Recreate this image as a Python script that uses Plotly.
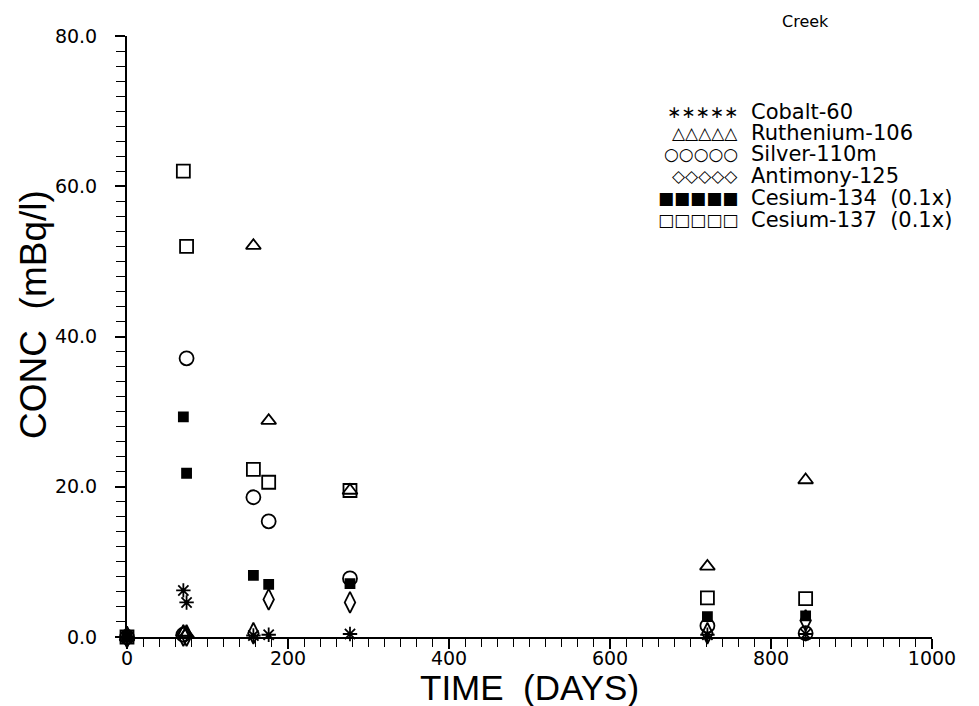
import plotly.graph_objects as go

# ---- data ----
days = [0, 70, 74, 157, 176, 277, 721, 843]
cobalt60 = [0, 6.2, 4.6, 0.2, 0.3, 0.4, 0.3, 0.4]
ruthenium106 = [0, 0.6, 0.4, 52.1, 28.8, 19.5, 9.4, 20.9]
silver110m = [0, 0.3, 37.1, 18.6, 15.4, 7.8, 1.5, 0.5]
antimony125 = [0, 0.2, 0.2, 0.5, 5.0, 4.6, 0.5, 2.2]
cesium134_x01 = [0, 29.3, 21.8, 8.2, 7.0, 7.1, 2.7, 2.8]
cesium137_x01 = [0, 62.0, 52.0, 22.3, 20.6, 19.5, 5.2, 5.1]

series_names = ["Cobalt-60", "Ruthenium-106", "Silver-110m", "Antimony-125",
                "Cesium-134  (0.1x)", "Cesium-137  (0.1x)"]
legend_glyphs = ["∗∗∗∗∗", "△△△△△", "○○○○○", "◇◇◇◇◇", "■■■■■", "□□□□□"]
x_ticks = [0, 200, 400, 600, 800, 1000]
y_ticks = [0, 20, 40, 60, 80]

series_values = [cobalt60, ruthenium106, silver110m, antimony125, cesium134_x01, cesium137_x01]
symbols = ["asterisk-open", "triangle-up-open", "circle-open", "diamond-tall-open", "square", "square-open"]
sizes = [12, 13, 14, 15, 9, 13]

fig = go.Figure()
for name, vals, sym, sz in zip(series_names, series_values, symbols, sizes):
    fig.add_trace(go.Scatter(
        x=days, y=vals, mode="markers", name=name, cliponaxis=False,
        marker=dict(symbol=sym, size=sz, color="black",
                    line=dict(color="black", width=1.8)),
        showlegend=False))

tick_font = dict(family="DejaVu Sans, Liberation Sans, sans-serif", size=19, color="black")
title_font = dict(family="Liberation Sans Narrow, Liberation Sans, sans-serif", size=35, color="black")
leg_font = dict(family="DejaVu Sans, sans-serif", size=21, color="black")

fig.update_xaxes(range=[0, 1000], tickvals=x_ticks, ticktext=[str(v) for v in x_ticks],
                 showline=True, linecolor="black", linewidth=2, showgrid=False, zeroline=False,
                 ticks="outside", ticklen=10, tickwidth=1.5, tickcolor="black",
                 minor=dict(ticks="outside", dtick=20, ticklen=8, tickwidth=1.2, tickcolor="black", showgrid=False),
                 tickfont=tick_font, ticklabelstandoff=-7)
fig.update_yaxes(range=[0, 80], tickvals=y_ticks, ticktext=[f"{v:.1f}" for v in y_ticks],
                 showline=True, linecolor="black", linewidth=2, showgrid=False, zeroline=False,
                 ticks="outside", ticklen=10, tickwidth=1.5, tickcolor="black",
                 minor=dict(ticks="outside", dtick=2, ticklen=9, tickwidth=1.2, tickcolor="black", showgrid=False),
                 tickfont=tick_font, ticklabelstandoff=14)

annotations = []
row_y = [0.8735, 0.8386, 0.8037, 0.767, 0.730, 0.694]
for glyph, name, yy in zip(legend_glyphs, series_names, row_y):
    annotations.append(dict(xref="paper", yref="paper", x=0.7615, y=yy, text=glyph,
                            xanchor="right", yanchor="middle", showarrow=False,
                            font=dict(family="DejaVu Sans, sans-serif", size=17, color="black")))
    annotations.append(dict(xref="paper", yref="paper", x=0.7727, y=yy, text=name,
                            xanchor="left", yanchor="middle", showarrow=False, font=leg_font))
annotations.append(dict(xref="paper", yref="paper", x=0.811, y=1.0233, text="Creek",
                        xanchor="left", yanchor="middle", showarrow=False,
                        font=dict(family="DejaVu Sans, sans-serif", size=16, color="black")))
annotations.append(dict(xref="paper", yref="paper", x=0.5, y=-0.0832, text="TIME  (DAYS)",
                        xanchor="center", yanchor="middle", showarrow=False, font=title_font))
annotations.append(dict(xref="paper", yref="paper", x=-0.1155, y=0.536, text="CONC  (mBq/l)",
                        textangle=-90, xanchor="center", yanchor="middle", showarrow=False,
                        font=dict(family="Liberation Sans Narrow, Liberation Sans, sans-serif", size=37, color="black")))

# page body has an 8px margin, so the figure is sized to fit inside the window
fig.update_layout(width=971, height=698, plot_bgcolor="white", paper_bgcolor="white",
                  margin=dict(l=119, r=47, t=28, b=69), annotations=annotations,
                  showlegend=False)

fig.write_html("out.html")
